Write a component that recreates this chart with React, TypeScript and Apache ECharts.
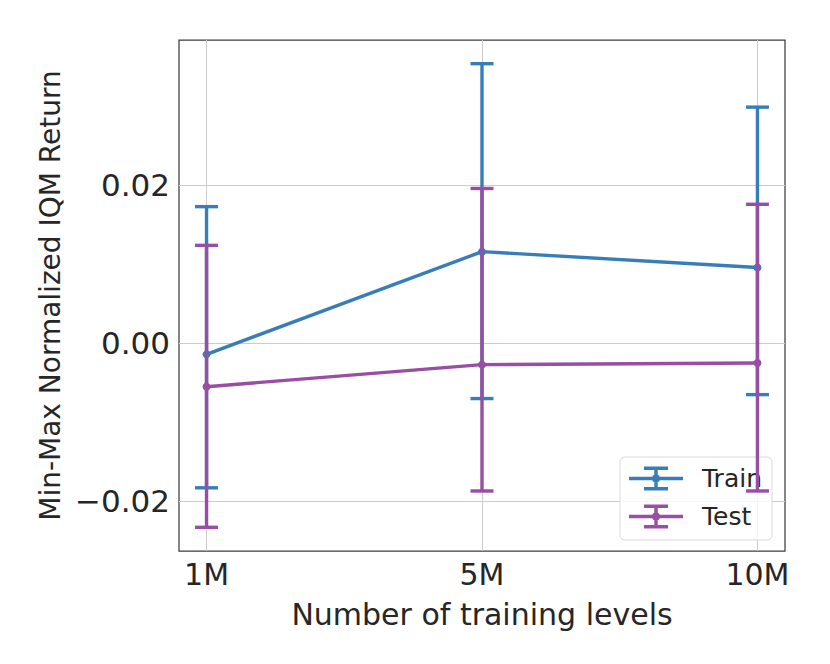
import React, { useEffect, useRef } from "react";
import * as echarts from "echarts";

const categories = ["1M", "5M", "10M"];
const xPositions = [0, 1, 2];
const trainMean = [-0.0014, 0.0116, 0.0096];
const trainLow = [-0.0183, -0.007, -0.0065];
const trainHigh = [0.0173, 0.0354, 0.0299];
const testMean = [-0.0055, -0.0027, -0.0025];
const testLow = [-0.0233, -0.0187, -0.0187];
const testHigh = [0.0124, 0.0196, 0.0176];
const yTicks = [-0.02, 0, 0.02];
const seriesNames = ["Train", "Test"];

const TRAIN = "#377eb8";
const TEST = "#984ea3";
const TEXT = "#262626";
const FONT = "DejaVu Sans";
const LW = 3.4;

const iconPath =
  "path://M0,10.3h54v3.4h-54Z M25.3,0h3.4v24h-3.4Z M15,0h24v3.4h-24Z M15,20.6h24v3.4h-24Z M31,12A4,4 0 1,1 23,12A4,4 0 1,1 31,12Z";

function errorBars(low: number[], high: number[], color: string, name: string, z: number) {
  return {
    type: "custom",
    name,
    z,
    silent: true,
    data: xPositions.map((x, i) => [x, low[i], high[i]]),
    encode: { x: 0, y: [1, 2] },
    renderItem: (params: any, api: any) => {
      const x = api.value(0);
      const lo = api.coord([x, api.value(1)]);
      const hi = api.coord([x, api.value(2)]);
      const hw = 11.5;
      const style = { stroke: color, lineWidth: LW };
      return {
        type: "group",
        children: [
          { type: "line", shape: { x1: lo[0], y1: lo[1], x2: hi[0], y2: hi[1] }, style },
          { type: "line", shape: { x1: lo[0] - hw, y1: lo[1], x2: lo[0] + hw, y2: lo[1] }, style },
          { type: "line", shape: { x1: hi[0] - hw, y1: hi[1], x2: hi[0] + hw, y2: hi[1] }, style },
        ],
      };
    },
  };
}

function meanLine(mean: number[], color: string, name: string, z: number) {
  return {
    type: "line",
    name,
    z,
    data: xPositions.map((x, i) => [x, mean[i]]),
    symbol: "circle",
    symbolSize: 8,
    showSymbol: true,
    lineStyle: { color, width: LW },
    itemStyle: { color },
  };
}

export default function App() {
  const ref = useRef<HTMLDivElement>(null);
  useEffect(() => {
    if (!ref.current) return;
    const chart = echarts.init(ref.current, undefined, { renderer: "svg" });
    chart.setOption({
      animation: false,
      backgroundColor: "#ffffff",
      textStyle: { fontFamily: FONT, color: TEXT },
      grid: {
        left: 179,
        top: 40,
        right: 45,
        bottom: 113,
        show: true,
        borderColor: "#3d3d3d",
        borderWidth: 1.25,
        backgroundColor: "transparent",
      },
      legend: {
        orient: "vertical",
        left: 620,
        top: 457,
        padding: [9, 10, 11, 9],
        itemWidth: 54,
        itemHeight: 24,
        itemGap: 13,
        backgroundColor: "rgba(255,255,255,0.8)",
        borderColor: "#d9d9d9",
        borderWidth: 1,
        borderRadius: 5,
        data: [
          { name: seriesNames[0], icon: iconPath, itemStyle: { color: TRAIN } },
          { name: seriesNames[1], icon: iconPath, itemStyle: { color: TEST } },
        ],
        textStyle: { fontFamily: FONT, fontSize: 25, color: TEXT, padding: [0, 0, 0, 14] },
      },
      xAxis: {
        type: "value",
        min: -0.1,
        max: 2.1,
        name: "Number of training levels",
        nameLocation: "middle",
        nameGap: 48,
        nameTextStyle: { fontFamily: FONT, fontSize: 30, color: TEXT },
        axisLine: { show: false },
        axisTick: { show: false, customValues: xPositions },
        axisLabel: {
          customValues: xPositions,
          formatter: (v: number) => categories[Math.round(v)] ?? "",
          fontFamily: FONT,
          fontSize: 30,
          color: TEXT,
          margin: 8,
        },
        splitLine: { show: true, lineStyle: { color: "#cccccc", width: 1 } },
      },
      yAxis: {
        type: "value",
        min: -0.0263,
        max: 0.0384,
        name: "Min-Max Normalized IQM Return",
        nameLocation: "middle",
        nameGap: 112,
        nameTextStyle: { fontFamily: FONT, fontSize: 28, color: TEXT },
        axisLine: { show: false },
        axisTick: { show: false, customValues: yTicks },
        axisLabel: {
          customValues: yTicks,
          formatter: (v: number) => (v < 0 ? "\u2212" : "") + Math.abs(v).toFixed(2),
          fontFamily: FONT,
          fontSize: 31,
          color: TEXT,
          margin: 9,
        },
        splitLine: { show: true, lineStyle: { color: "#cccccc", width: 1 } },
      },
      series: [
        errorBars(trainLow, trainHigh, TRAIN, seriesNames[0], 2),
        meanLine(trainMean, TRAIN, seriesNames[0], 3),
        errorBars(testLow, testHigh, TEST, seriesNames[1], 4),
        meanLine(testMean, TEST, seriesNames[1], 5),
      ],
    });
    return () => chart.dispose();
  }, []);
  return (
    <div
      ref={ref}
      style={{ position: "fixed", left: 0, top: 0, width: 830, height: 664 }}
    />
  );
}
